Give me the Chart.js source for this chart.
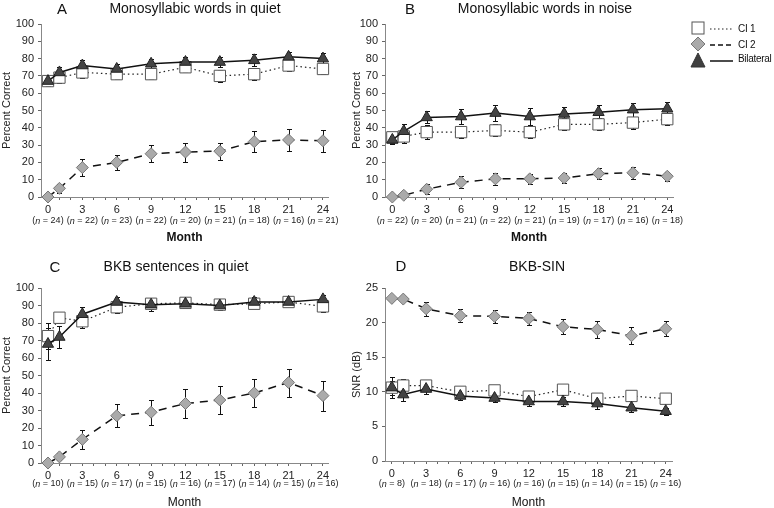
<!DOCTYPE html>
<html>
<head>
<meta charset="utf-8">
<script src="https://cdn.jsdelivr.net/npm/chart.js@4/dist/chart.umd.min.js"></script>
<style>
  body { margin: 0; background: #fff; font-family: "Liberation Sans", Arial, sans-serif; }
  #wrap { position: relative; width: 774px; height: 508px; overflow: hidden; }
  canvas { position: absolute; }
  .t { position: absolute; transform: translate(-50%, -50%); white-space: nowrap; color: #111; font-size: 14px; }
  .letter { font-size: 15px; }
  .leg { position: absolute; font-size: 10px; letter-spacing: -0.3px; color: #111; transform: translateY(-50%); white-space: nowrap; }
  svg { position: absolute; left: 0; top: 0; }
</style>
</head>
<body>
<div id="wrap">
  <canvas id="cA" width="390" height="250" style="left:0;top:0"></canvas>
  <canvas id="cB" width="434" height="250" style="left:340px;top:0"></canvas>
  <canvas id="cC" width="390" height="262" style="left:0;top:250px"></canvas>
  <canvas id="cD" width="434" height="262" style="left:340px;top:250px"></canvas>

  <div class="t letter" style="left:62px;top:8px">A</div>
  <div class="t" style="left:195px;top:8px">Monosyllabic words in quiet</div>
  <div class="t letter" style="left:410px;top:8px">B</div>
  <div class="t" style="left:545px;top:8px">Monosyllabic words in noise</div>
  <div class="t letter" style="left:55px;top:266px">C</div>
  <div class="t" style="left:176px;top:266px">BKB sentences in quiet</div>
  <div class="t letter" style="left:401px;top:265px">D</div>
  <div class="t" style="left:537px;top:266px">BKB-SIN</div>

  <svg width="774" height="100">
    <rect x="692" y="22" width="12" height="12" fill="#fff" stroke="#555" stroke-width="1"/>
    <line x1="710" y1="29" x2="733" y2="29" stroke="#222" stroke-width="1.2" stroke-dasharray="1.5,2.5"/>
    <polygon points="698,37 705,44 698,51 691,44" fill="#aaa" stroke="#777" stroke-width="1"/>
    <line x1="710" y1="45" x2="733" y2="45" stroke="#111" stroke-width="1.5" stroke-dasharray="5,3"/>
    <polygon points="698,53 705,67 691,67" fill="#404040" stroke="#333" stroke-width="1"/>
    <line x1="710" y1="61" x2="733" y2="61" stroke="#111" stroke-width="1.5"/>
  </svg>
  <div class="leg" style="left:738px;top:28px">CI 1</div>
  <div class="leg" style="left:738px;top:44px">CI 2</div>
  <div class="leg" style="left:738px;top:58px">Bilateral</div>
</div>

<script>
Chart.defaults.font.family = '"Liberation Sans", Arial, sans-serif';

const months = [0, 1, 3, 6, 9, 12, 15, 18, 21, 24];
const tickMonths = [0, 3, 6, 9, 12, 15, 18, 21, 24];

// A - Monosyllabic words in quiet
const nA = [24, 22, 23, 22, 20, 21, 18, 16, 21];
const biA = [67, 72, 76, 74, 77, 78, 78, 79, 81, 80];
const biAErr = [3, 3, 3, 3, 3, 3, 3, 3.5, 3, 3];
const ci1A = [67, 69, 72, 71, 71, 75, 70, 71, 76, 74];
const ci1AErr = [3, 3, 3.5, 3, 3, 2.5, 3.5, 3.5, 3, 3];
const ci2A = [0, 5, 17, 20, 25, 26, 26.5, 32, 33, 32.5];
const ci2AErr = [0, 2.5, 5, 4.5, 5, 5.5, 5, 6, 6.5, 6.5];

// B - Monosyllabic words in noise
const nB = [22, 20, 21, 22, 21, 19, 17, 16, 18];
const biB = [33, 38, 46, 46.5, 48.5, 46.5, 48, 49, 50.5, 51];
const biBErr = [2.5, 4, 3.5, 4.5, 4.5, 5, 4, 4, 4, 4];
const ci1B = [34.5, 35, 37.5, 37.5, 38.5, 37.5, 42, 42, 43, 45];
const ci1BErr = [3, 3.5, 4, 3.5, 3.5, 3.5, 3.5, 3.5, 3.5, 3.5];
const ci2B = [0, 1, 4.5, 8.5, 10.5, 10.5, 11, 13.5, 14, 12];
const ci2BErr = [0, 0, 3, 3.5, 3.5, 3, 3, 3, 3.5, 2.5];

// C - BKB sentences in quiet
const nC = [10, 15, 17, 15, 16, 17, 14, 15, 16];
const biC = [68, 72, 85, 92, 90.5, 91, 90, 92, 92, 93.5];
const biCErr = [9, 6.5, 4, 3, 3.5, 2.5, 2.5, 3, 2.5, 2.5];
const ci1C = [72.5, 83, 81, 89, 91, 91.5, 90.5, 91, 92, 89.5];
const ci1CErr = [7.5, 3, 4, 3, 3, 2, 2, 2.5, 2.5, 3];
const ci2C = [0, 3.5, 13.5, 27, 29, 34, 36, 40, 46, 38.5];
const ci2CErr = [0, 2, 5.5, 6.5, 7, 8.5, 8, 8, 8, 8.5];

// D - BKB-SIN (SNR dB)
const nD = [8, 18, 17, 16, 16, 15, 14, 15, 16];
const biD = [10.6, 9.6, 10.4, 9.4, 9.1, 8.6, 8.6, 8.3, 7.7, 7.2];
const biDErr = [1.5, 1, 0.7, 0.6, 0.6, 0.6, 0.7, 0.8, 0.6, 0.5];
const ci1D = [10.6, 10.9, 10.9, 10, 10.2, 9.3, 10.3, 9, 9.4, 9];
const ci1DErr = [1, 1, 0.8, 0.6, 0.5, 0.7, 0.7, 0.7, 0.7, 0.5];
const ci2D = [23.5, 23.4, 22, 21, 20.9, 20.6, 19.4, 19, 18.1, 19.1];
const ci2DErr = [0, 0, 1, 0.9, 0.9, 0.9, 1.1, 1.2, 1.2, 1.1];

function pts(vals) {
  return months.map((m, i) => ({ x: m, y: vals[i] }));
}

// error bars drawn under the markers
const errorBars = {
  id: 'errorBars',
  beforeDatasetsDraw(chart) {
    const ctx = chart.ctx, xs = chart.scales.x, ys = chart.scales.y;
    ctx.save();
    ctx.strokeStyle = '#111';
    ctx.lineWidth = 1;
    chart.data.datasets.forEach(ds => {
      ds.data.forEach((p, i) => {
        const e = ds.errors[i];
        if (!e) return;
        const x = Math.round(xs.getPixelForValue(p.x)) + 0.5;
        const y1 = Math.round(ys.getPixelForValue(p.y + e)) + 0.5;
        const y2 = Math.round(ys.getPixelForValue(p.y - e)) + 0.5;
        ctx.beginPath();
        ctx.moveTo(x, y1); ctx.lineTo(x, y2);
        ctx.moveTo(x - 2.5, y1); ctx.lineTo(x + 2.5, y1);
        ctx.moveTo(x - 2.5, y2); ctx.lineTo(x + 2.5, y2);
        ctx.stroke();
      });
    });
    ctx.restore();
  }
};

// "(n = xx)" under each month label, with italic n
const nLabels = {
  id: 'nLabels',
  afterDraw(chart, args, opts) {
    const ctx = chart.ctx, xs = chart.scales.x;
    const y = chart.chartArea.bottom + opts.offset;
    const reg = '9px "Liberation Sans", Arial, sans-serif';
    const ita = 'italic 9px "Liberation Sans", Arial, sans-serif';
    ctx.save();
    ctx.fillStyle = '#222';
    ctx.textBaseline = 'middle';
    ctx.textAlign = 'left';
    opts.values.forEach((n, i) => {
      const parts = [['(', reg], ['n', ita], [' = ' + n + ')', reg]];
      let w = 0;
      parts.forEach(p => { ctx.font = p[1]; w += ctx.measureText(p[0]).width; });
      let x = xs.getPixelForValue(tickMonths[i]) - w / 2;
      parts.forEach(p => { ctx.font = p[1]; ctx.fillText(p[0], x, y); x += ctx.measureText(p[0]).width; });
    });
    ctx.restore();
  }
};

function panel(id, cfg) {
  return new Chart(document.getElementById(id), {
    type: 'line',
    data: {
      datasets: [
        { label: 'Bilateral', data: pts(cfg.bi), errors: cfg.biErr, borderColor: '#111', borderWidth: 1.5,
          pointStyle: 'triangle', pointRadius: 6.5, pointBackgroundColor: '#444', pointBorderColor: '#222', pointBorderWidth: 1, clip: false },
        { label: 'CI 1', data: pts(cfg.ci1), errors: cfg.ci1Err, borderColor: '#222', borderWidth: 1.2, borderDash: [1.5, 3],
          pointStyle: 'rect', pointRadius: 8, pointBackgroundColor: '#fff', pointBorderColor: '#555', pointBorderWidth: 1, clip: false },
        { label: 'CI 2', data: pts(cfg.ci2), errors: cfg.ci2Err, borderColor: '#111', borderWidth: 1.5, borderDash: [8, 6],
          pointStyle: 'rectRot', pointRadius: 6, pointBackgroundColor: '#aaa', pointBorderColor: '#777', pointBorderWidth: 1, clip: false }
      ]
    },
    options: {
      animation: false,
      responsive: false,
      layout: { padding: cfg.pad },
      plugins: {
        legend: { display: false },
        tooltip: { enabled: false },
        nLabels: { values: cfg.n, offset: cfg.nOff }
      },
      scales: {
        x: {
          type: 'linear', min: cfg.xMin, max: cfg.xMax,
          afterBuildTicks: s => { s.ticks = Array.from({ length: 25 }, (_, i) => ({ value: i })); },
          afterFit: s => { s.height = cfg.xH; },
          grid: { drawOnChartArea: false, tickLength: 3, color: '#666' },
          border: { color: '#888' },
          ticks: { autoSkip: false, maxRotation: 0, padding: 3, color: '#222', font: { size: 11 },
            callback: v => tickMonths.includes(v) ? String(v) : '' },
          title: { display: true, text: 'Month', color: '#111',
            font: { size: 12, weight: cfg.bold ? 'bold' : 'normal' }, padding: { top: 0, bottom: cfg.tPad } }
        },
        y: {
          min: 0, max: cfg.yMax,
          afterFit: s => { s.width = cfg.yW; },
          grid: { drawOnChartArea: false, tickLength: 3, color: '#666' },
          border: { color: '#888' },
          ticks: { stepSize: cfg.yStep, padding: 4, color: '#222', font: { size: 11 } },
          title: { display: true, text: cfg.yTitle, color: '#222', font: { size: 11 }, padding: { top: cfg.yTPad, bottom: 0 } }
        }
      }
    },
    plugins: [errorBars, nLabels]
  });
}

panel('cA', { bi: biA, biErr: biAErr, ci1: ci1A, ci1Err: ci1AErr, ci2: ci2A, ci2Err: ci2AErr, n: nA,
  pad: { top: 24, right: 62, left: 0, bottom: 0 }, xH: 53, yW: 41, xMin: -0.61, xMax: 24.44,
  yMax: 100, yStep: 10, yTitle: 'Percent Correct', yTPad: 0, bold: true, tPad: 5, nOff: 24 });

panel('cB', { bi: biB, biErr: biBErr, ci1: ci1B, ci1Err: ci1BErr, ci2: ci2B, ci2Err: ci2BErr, n: nB,
  pad: { top: 24, right: 101, left: 0, bottom: 0 }, xH: 53, yW: 45, xMin: -0.64, xMax: 24.5,
  yMax: 100, yStep: 10, yTitle: 'Percent Correct', yTPad: 10, bold: true, tPad: 5, nOff: 24 });

panel('cC', { bi: biC, biErr: biCErr, ci1: ci1C, ci1Err: ci1CErr, ci2: ci2C, ci2Err: ci2CErr, n: nC,
  pad: { top: 38, right: 62, left: 0, bottom: 0 }, xH: 49, yW: 41, xMin: -0.61, xMax: 24.44,
  yMax: 100, yStep: 10, yTitle: 'Percent Correct', yTPad: 0, bold: false, tPad: 2, nOff: 21 });

panel('cD', { bi: biD, biErr: biDErr, ci1: ci1D, ci1Err: ci1DErr, ci2: ci2D, ci2Err: ci2DErr, n: nD,
  pad: { top: 38, right: 102, left: 0, bottom: 0 }, xH: 51, yW: 45, xMin: -0.6, xMax: 24.55,
  yMax: 25, yStep: 5, yTitle: 'SNR (dB)', yTPad: 10, bold: false, tPad: 2, nOff: 23 });
</script>
</body>
</html>
